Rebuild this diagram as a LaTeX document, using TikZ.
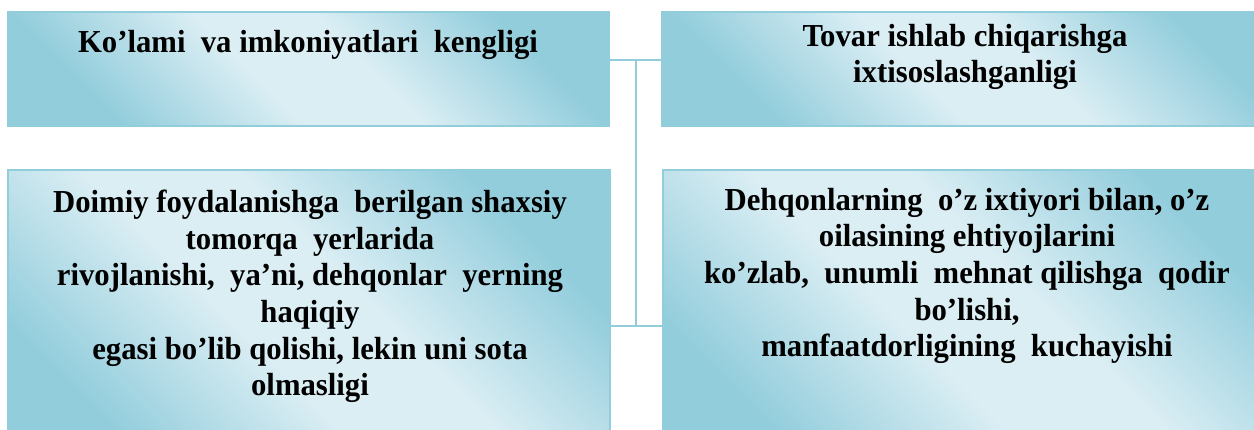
\documentclass[tikz,border=0pt]{standalone}
\usepackage{fontspec}
\setmainfont{Liberation Serif}[FakeStretch=0.96]
\definecolor{bordc}{RGB}{146,205,220}
\definecolor{darkc}{RGB}{146,205,220}
\definecolor{lightc}{RGB}{219,238,244}
\pgfdeclareverticalshading{aquaband}{100bp}{color(0bp)=(darkc); color(26bp)=(darkc); color(44bp)=(lightc); color(56bp)=(lightc); color(74bp)=(darkc); color(100bp)=(darkc)}
\tikzset{
  gbox/.style={draw=bordc, line width=2pt, rectangle, inner sep=0pt,
    shading=aquaband, shading angle=-45},
  btext/.style={align=center, inner sep=0pt, anchor=base,
    font=\fontsize{32}{36.7}\selectfont\bfseries},
  link/.style={draw=bordc, line width=2pt}
}
\begin{document}
\begin{tikzpicture}[x=1pt,y=-1pt]
\useasboundingbox (0,0) rectangle (1254,430);
\clip (0,0) rectangle (1254,430);
\node[gbox, minimum width=601pt, minimum height=114pt] (tl) at (308.5,69) {};
\node[gbox, minimum width=628pt, minimum height=114pt] (tr) at (976,69) {};
\node[gbox, minimum width=602pt, minimum height=300pt] (bl) at (309,320) {};
\node[gbox, minimum width=627pt, minimum height=300pt] (br) at (976.5,320) {};
\node[btext] (tlt) at (308,52.7) {Ko’lami\ \ va imkoniyatlari\ \ kengligi};
\node[btext] (trt) at (965,83) {Tovar ishlab chiqarishga\\ixtisoslashganligi};
\node[btext] (blt) at (310,396) {Doimiy foydalanishga\ \ berilgan shaxsiy\\tomorqa\ \ yerlarida\\rivojlanishi,\ \ ya’ni, dehqonlar\ \ yerning\\haqiqiy\\egasi bo’lib qolishi, lekin uni sota\\olmasligi};
\node[btext] (brt) at (967,357) {Dehqonlarning\ \ o’z ixtiyori bilan, o’z\\oilasining ehtiyojlarini\\ko’zlab,\ \ unumli\ \ mehnat qilishga\ \ qodir\\bo’lishi,\\manfaatdorligining\ \ kuchayishi};
\coordinate (j1) at (636,60);
\coordinate (j2) at (636,326);
\draw[link] (tl.east |- j1) -- (tr.west |- j1);
\draw[link] (j1) -- (j2);
\draw[link] (bl.east |- j2) -- (br.west |- j2);
\end{tikzpicture}
\end{document}
